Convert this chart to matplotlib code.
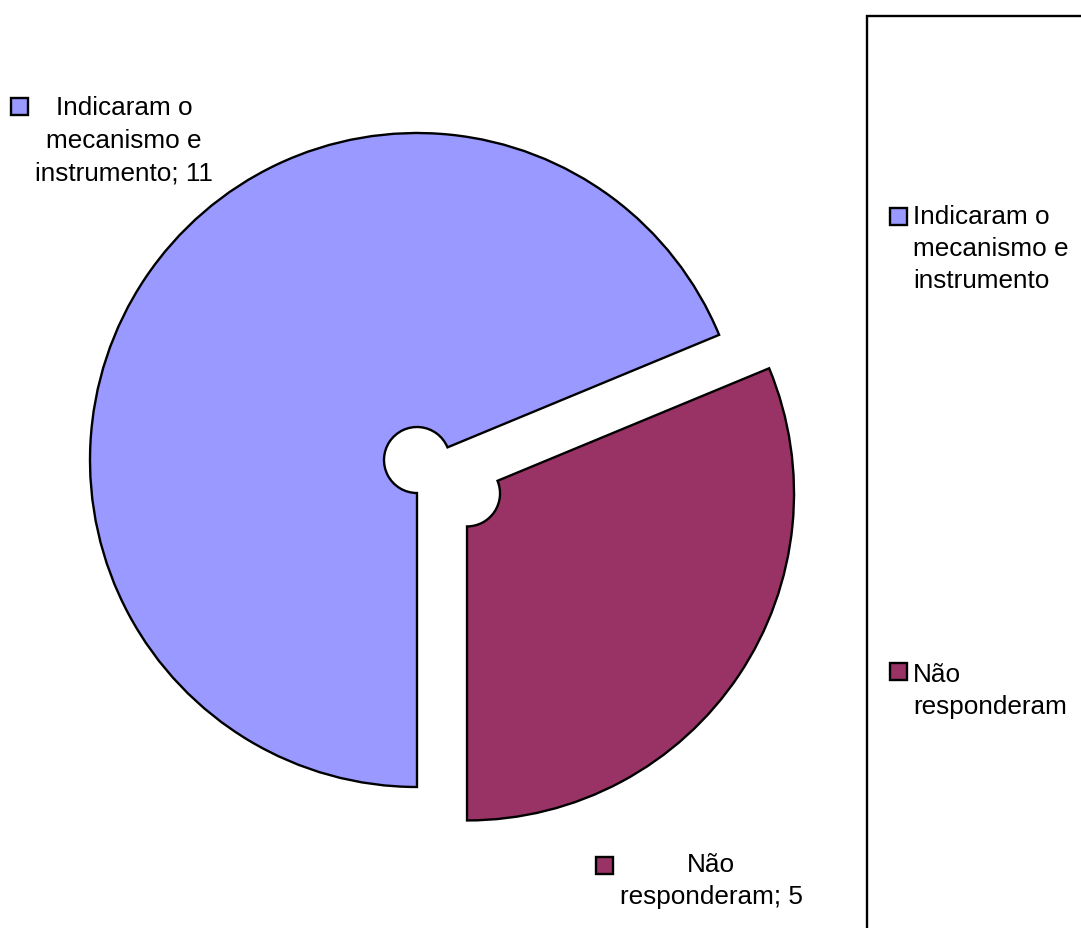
import matplotlib.pyplot as plt
from matplotlib.patches import Rectangle

plt.rcParams['font.family'] = ['Liberation Sans', 'DejaVu Sans']

# ----------- dados -------------------------
categorias = ['Indicaram o\nmecanismo e\ninstrumento', 'Não\nresponderam']
valores = [11, 5]
cores = ['#9999FF', '#993366']

W, H = 1081, 929
fig = plt.figure(figsize=(W / 100, H / 100), dpi=100)
ax = fig.add_axes([0, 0, 1, 1])

# pizza com furo pequeno no centro, fatia roxa destacada
# (no pie, explode fica em unidades de dados quando radius != 1)
raio = 327
destaque = [0, 0.184 * raio]
ax.pie(valores, colors=cores, explode=destaque, startangle=22.5,
       counterclock=True, center=(417, H - 461), radius=raio,
       wedgeprops=dict(width=raio - 33, edgecolor='black', linewidth=1.7),
       frame=True)
ax.set_xlim(0, W)
ax.set_ylim(0, H)
ax.set_aspect('equal')
ax.axis('off')

fs = 18.8

# ----------- rótulos de dados (quadrado + texto) ----------------
rot1 = 'Indicaram o\nmecanismo e\ninstrumento; ' + str(valores[0])
rot2 = 'Não\nresponderam; ' + str(valores[1])


def quadrado(x, y, cor, tam=17):
    ax.add_patch(Rectangle((x - tam / 2, H - y - tam / 2), tam, tam,
                           facecolor=cor, edgecolor='black', linewidth=1.7))


quadrado(19, 107, cores[0])
ax.text(124, H - 141, rot1, ha='center', va='center', fontsize=fs,
        linespacing=1.45)
quadrado(604, 866, cores[1])
ax.text(711, H - 881, rot2, ha='center', va='center', fontsize=fs,
        linespacing=1.45)

# ----------- legenda à direita -------------------------
ax.add_patch(Rectangle((867, -100), 400, H - 17 + 100, facecolor='none',
                       edgecolor='black', linewidth=1.7, clip_on=False))
quadrado(898, 217, cores[0])
ax.text(913, H - 249, categorias[0], ha='left', va='center', fontsize=fs,
        linespacing=1.42)
quadrado(898, 672, cores[1])
ax.text(913, H - 691, categorias[1], ha='left', va='center', fontsize=fs,
        linespacing=1.42)

fig.savefig('out.png', dpi=100)
